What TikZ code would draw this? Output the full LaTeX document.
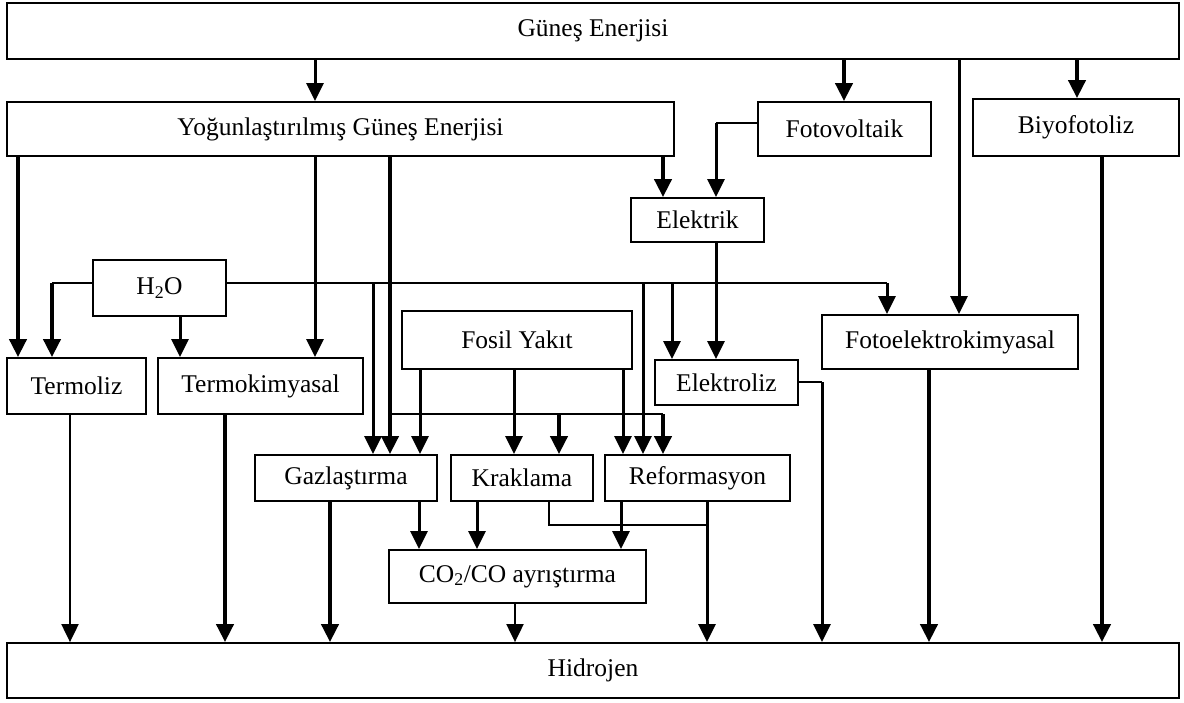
\documentclass[tikz,border=0pt]{standalone}
\usepackage{fontspec}
\setmainfont{Liberation Serif}
\usetikzlibrary{arrows.meta}
\tikzset{
  box/.style={draw, line width=1.8pt, inner sep=0pt, font=\fontsize{25.5}{30}\selectfont},
  tip/.style={-{Triangle[length=18pt,width=17pt]}},
  wa/.style={line width=2pt},
  wb/.style={line width=3pt},
  wc/.style={line width=4pt}
}
\begin{document}
\begin{tikzpicture}[x=1pt,y=-1pt]
\useasboundingbox (0,0) rectangle (1184,702);
% boxes
\node[box, minimum width=1172, minimum height=56] (G) at (593,31) {Güneş Enerjisi};
\node[box, minimum width=667, minimum height=54] (Y) at (340.5,129) {Yoğunlaştırılmış Güneş Enerjisi};
\node[box, minimum width=173, minimum height=54] (F) at (844.5,129) {Fotovoltaik};
\node[box, minimum width=206, minimum height=57] (B) at (1076,127.5) {Biyofotoliz};
\node[box, minimum width=133, minimum height=44] (E) at (697.5,220) {Elektrik};
\node[box, minimum width=133, minimum height=56] (W) at (159.5,288) {H\textsubscript{2}O};
\node[box, minimum width=139, minimum height=56] (TL) at (76.5,386) {Termoliz};
\node[box, minimum width=205, minimum height=56] (TK) at (260.5,386) {Termokimyasal};
\node[box, minimum width=230, minimum height=58] (FY) at (517,340) {Fosil Yakıt};
\node[box, minimum width=143, minimum height=45] (EL) at (726.5,382.5) {Elektroliz};
\node[box, minimum width=256, minimum height=54] (FE) at (950,342) {Fotoelektrokimyasal};
\node[box, minimum width=182, minimum height=46] (GZ) at (346,478) {Gazlaştırma};
\node[box, minimum width=142, minimum height=46] (KR) at (522,478) {Kraklama};
\node[box, minimum width=185, minimum height=46] (RF) at (697.5,478) {Reformasyon};
\node[box, minimum width=257, minimum height=53] (CO) at (517.5,576.5) {CO\textsubscript{2}/CO ayrıştırma};
\node[box, minimum width=1172, minimum height=55] (H) at (593,670.5) {Hidrojen};
% helper coordinates
\coordinate (br) at (390,414);
\coordinate (brR) at (663,414);
\coordinate (fc) at (716,123);
\coordinate (wl) at (52,283);
\coordinate (wr) at (887,283);
\coordinate (kj) at (707,525);
\coordinate (ec) at (822,382);
% from Gunes Enerjisi
\draw[wb,tip] (G.south -| 315,0) -- (Y.north -| 315,0);
\draw[wc,tip] (G.south -| 844,0) -- (F.north -| 844,0);
\draw[wb,tip] (G.south -| 959,0) -- (FE.north -| 959,0);
\draw[wc,tip] (G.south -| 1077,0) -- (B.north -| 1077,0);
% from Yogunlastirilmis
\draw[wc,tip] (Y.south -| 18,0) -- (TL.north -| 18,0);
\draw[wb,tip] (Y.south -| 315,0) -- (TK.north -| 315,0);
\draw[wc,tip] (Y.south -| 390,0) -- (GZ.north -| 390,0);
\draw[wa] (br) -- (brR);
\draw[wc,tip] (br -| 559,0) -- (KR.north -| 559,0);
\draw[wc,tip] (brR) -- (RF.north -| brR);
\draw[wc,tip] (Y.south -| 663,0) -- (E.north -| 663,0);
% Fotovoltaik -> Elektrik
\draw[wa] (F.west |- fc) -- (fc);
\draw[wb,tip] (fc) -- (E.north -| fc);
% Elektrik -> Elektroliz
\draw[wb,tip] (E.south -| 716,0) -- (EL.north -| 716,0);
% H2O
\draw[wa] (W.west |- wl) -- (wl);
\draw[wc,tip] (wl) -- (TL.north -| wl);
\draw[wb,tip] (W.south -| 180,0) -- (TK.north -| 180,0);
\draw[wa] (W.east |- wr) -- (wr);
\draw[wb,tip] (wr) -- (FE.north -| wr);
\draw[wb,tip] (wr -| 373,0) -- (GZ.north -| 373,0);
\draw[wb,tip] (wr -| 643,0) -- (RF.north -| 643,0);
\draw[wb,tip] (wr -| 672,0) -- (EL.north -| 672,0);
% Fosil Yakit
\draw[wb,tip] (FY.south -| 420,0) -- (GZ.north -| 420,0);
\draw[wb,tip] (FY.south -| 514,0) -- (KR.north -| 514,0);
\draw[wb,tip] (FY.south -| 623,0) -- (RF.north -| 623,0);
% to CO2/CO
\draw[wb,tip] (GZ.south -| 419,0) -- (CO.north -| 419,0);
\draw[wb,tip] (KR.south -| 477,0) -- (CO.north -| 477,0);
\draw[wb,tip] (RF.south -| 621,0) -- (CO.north -| 621,0);
\draw[wa] (KR.south -| 549,0) |- (kj);
% to Hidrojen
\draw[wa,tip] (TL.south -| 70,0) -- (H.north -| 70,0);
\draw[wc,tip] (TK.south -| 225,0) -- (H.north -| 225,0);
\draw[wc,tip] (GZ.south -| 330,0) -- (H.north -| 330,0);
\draw[wa,tip] (CO.south -| 515,0) -- (H.north -| 515,0);
\draw[wb,tip] (RF.south -| 707,0) -- (H.north -| 707,0);
\draw[wa] (EL.east |- ec) -- (ec);
\draw[wb,tip] (ec) -- (H.north -| ec);
\draw[wc,tip] (FE.south -| 929,0) -- (H.north -| 929,0);
\draw[wc,tip] (B.south -| 1102,0) -- (H.north -| 1102,0);
\end{tikzpicture}
\end{document}
